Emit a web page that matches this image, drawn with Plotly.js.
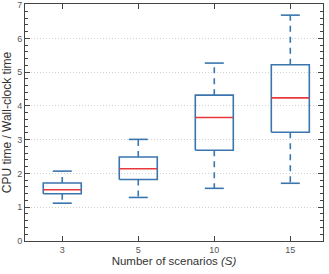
<!DOCTYPE html>
<html><head><meta charset="utf-8">
<script src="https://cdn.plot.ly/plotly-3.0.1.min.js"></script>
<style>html,body{margin:0;padding:0;background:#fff}#chart{width:329px;height:274px}</style>
</head><body><div id="chart"></div>
<script>
const categories = ['3', '5', '10', '15'];
const lowerWhisker = [1.12, 1.29, 1.56, 1.71];
const q1 = [1.40, 1.82, 2.69, 3.22];
const median = [1.52, 2.14, 3.66, 4.24];
const q3 = [1.72, 2.49, 4.32, 5.22];
const upperWhisker = [2.07, 3.01, 5.27, 6.69];

const blue = '#3a75ae';
const red = '#e8383d';
const hw = 0.25, cw = 0.125;

function seg(builder) {
  const x = [], y = [];
  categories.forEach((c, i) => {
    const s = builder(i);
    s.x.forEach(v => x.push(v)); s.y.forEach(v => y.push(v));
    x.push(null); y.push(null);
  });
  return {x, y};
}
const boxes = seg(i => ({x:[i-hw,i+hw,i+hw,i-hw,i-hw], y:[q1[i],q1[i],q3[i],q3[i],q1[i]]}));
const whiskUp = seg(i => ({x:[i,i], y:[q3[i], upperWhisker[i]]}));
const whiskLo = seg(i => ({x:[i,i], y:[q1[i], lowerWhisker[i]]}));
const capsU = seg(i => ({x:[i-cw,i+cw], y:[upperWhisker[i],upperWhisker[i]]}));
const capsL = seg(i => ({x:[i-cw,i+cw], y:[lowerWhisker[i],lowerWhisker[i]]}));
const meds = seg(i => ({x:[i-hw,i+hw], y:[median[i],median[i]]}));

const base = {type:'scatter', mode:'lines', hoverinfo:'skip', showlegend:false};
const data = [
  Object.assign({}, base, {x:whiskUp.x, y:whiskUp.y, line:{color:blue, width:1.6, dash:'6px,5px'}}),
  Object.assign({}, base, {x:whiskLo.x, y:whiskLo.y, line:{color:blue, width:1.6, dash:'6px,5px'}}),
  Object.assign({}, base, {x:capsU.x, y:capsU.y, line:{color:blue, width:1.6}}),
  Object.assign({}, base, {x:capsL.x, y:capsL.y, line:{color:blue, width:1.6}}),
  Object.assign({}, base, {x:boxes.x, y:boxes.y, line:{color:blue, width:1.6}}),
  Object.assign({}, base, {x:meds.x, y:meds.y, line:{color:red, width:1.6}})
];

const layout = {
  width:329, height:274,
  margin:{l:25, r:6, t:4, b:33},
  paper_bgcolor:'#fff', plot_bgcolor:'#fff',
  font:{family:'Liberation Sans, Arial, sans-serif', color:'#444', size:9},
  xaxis:{
    range:[-0.49, 3.43],
    tickvals:[0,1,2,3], ticktext:categories,
    ticks:'inside', ticklen:5, tickcolor:'#444', tickwidth:1,
    showline:true, linecolor:'#444', linewidth:1, mirror:'ticks',
    showgrid:false, zeroline:false,
    tickfont:{size:9, color:'#555'},
    title:{text:'Number of scenarios <i>(S)</i>', font:{size:11.5, color:'#333'}, standoff:3}
  },
  yaxis:{
    range:[0,7.02], tickvals:[0,1,2,3,4,5,6,7],
    ticks:'inside', ticklen:5, tickcolor:'#444', tickwidth:1,
    showline:true, linecolor:'#444', linewidth:1, mirror:'ticks',
    showgrid:true, gridcolor:'#d0d0d0', griddash:'1px,2px', gridwidth:1,
    zeroline:false, ticklabeloverflow:'allow',
    minor:{dtick:0.2, ticks:'inside', ticklen:3, tickcolor:'#444', showgrid:false},
    tickfont:{size:9, color:'#555'},
    title:{text:'CPU time / Wall-clock time', font:{size:12, color:'#333'}, standoff:3}
  }
};
Plotly.newPlot('chart', data, layout, {staticPlot:true, displayModeBar:false});
</script></body></html>
